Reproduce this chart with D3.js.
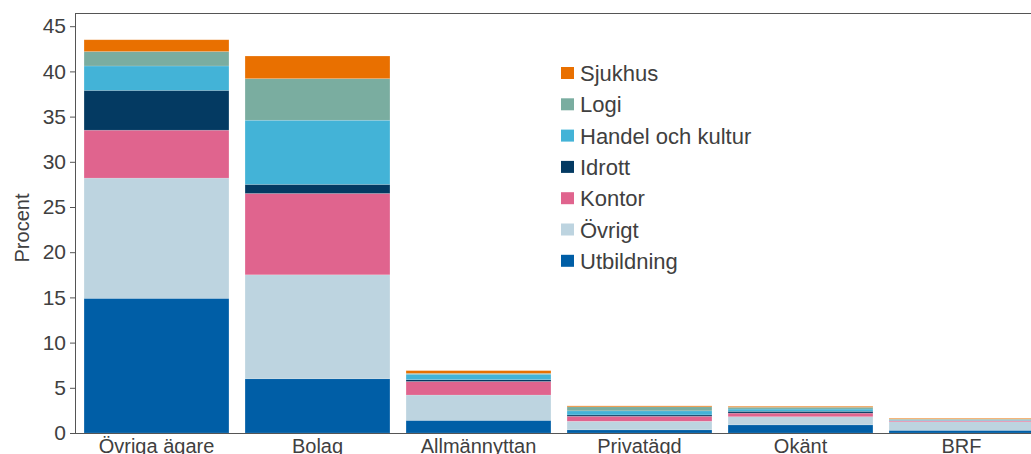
<!DOCTYPE html>
<html>
<head>
<meta charset="utf-8">
<script src="https://cdn.jsdelivr.net/npm/d3@7"></script>
<style>
  body { margin: 0; background: #fff; }
  svg { display: block; font-family: "Liberation Sans", Arial, sans-serif; }
</style>
</head>
<body>
<div id="chart"></div>
<script>
const owners = ["Övriga ägare", "Bolag", "Allmännyttan", "Privatägd", "Okänt", "BRF"];
const categories = ["Utbildning", "Övrigt", "Kontor", "Idrott", "Handel och kultur", "Logi", "Sjukhus"];
const colors = ["#005ea6", "#bdd4e0", "#e0648e", "#043a62", "#43b3d7", "#7aada0", "#e97000"];

// values per category, one number per owner
const utbildning = [14.9, 6.0, 1.4, 0.35, 0.9, 0.3];
const ovrigt     = [13.3, 11.5, 2.8, 0.95, 0.9, 0.95];
const kontor     = [5.3, 9.0, 1.5, 0.55, 0.4, 0.12];
const idrott     = [4.4, 1.0, 0.2, 0.15, 0.2, 0.02];
const handel     = [2.7, 7.1, 0.6, 0.45, 0.25, 0.07];
const logi       = [1.6, 4.6, 0.1, 0.45, 0.2, 0.08];
const sjukhus    = [1.3, 2.5, 0.3, 0.1, 0.1, 0.08];
const yTicks = [0, 5, 10, 15, 20, 25, 30, 35, 40, 45];

const series = [utbildning, ovrigt, kontor, idrott, handel, logi, sjukhus];
const rows = owners.map((o, i) => {
    const r = { owner: o };
    categories.forEach((c, j) => r[c] = series[j][i]);
    return r;
});

const width = 1031, height = 454;
const marginLeft = 75, plotTop = 13, plotBottom = 433;

const svg = d3.select("#chart").append("svg")
    .attr("width", width)
    .attr("height", height);

const x = d3.scaleBand()
    .domain(owners)
    .range([marginLeft + 1, marginLeft + 1 + 6 * 161])
    .paddingInner(0.1)
    .paddingOuter(0.05);

const y = d3.scaleLinear()
    .domain([0, 45])
    .range([plotBottom, plotBottom - 45 * 9.04]);

const color = d3.scaleOrdinal().domain(categories).range(colors);

const stacked = d3.stack().keys(categories)(rows);

svg.append("g")
    .selectAll("g")
    .data(stacked)
    .join("g")
    .attr("fill", d => color(d.key))
    .selectAll("rect")
    .data(d => d)
    .join("rect")
    .attr("x", d => x(d.data.owner))
    .attr("width", x.bandwidth())
    .attr("y", d => y(d[1]))
    .attr("height", d => y(d[0]) - y(d[1]))
    .attr("stroke", "#fff")
    .attr("stroke-opacity", 0.25)
    .attr("stroke-width", 0.6);

// frame: top line
svg.append("line")
    .attr("x1", marginLeft).attr("x2", width)
    .attr("y1", plotTop + 0.5).attr("y2", plotTop + 0.5)
    .attr("stroke", "#555").attr("stroke-width", 1);

// y axis
const yAxis = svg.append("g")
    .attr("transform", `translate(${marginLeft},0)`)
    .call(d3.axisLeft(y).tickValues(yTicks).tickSize(5).tickPadding(4).tickSizeOuter(0));
yAxis.select(".domain").attr("d", `M0.5,${plotTop}V${plotBottom}`).attr("stroke", "#555");
yAxis.selectAll(".tick line").attr("stroke", "#555");
yAxis.selectAll("text")
    .style("font-size", "21px")
    .attr("fill", "#404040");

// x axis
const xAxis = svg.append("g")
    .attr("transform", `translate(0,${plotBottom})`)
    .call(d3.axisBottom(x).tickSize(0).tickPadding(6));
xAxis.select(".domain").attr("d", `M${marginLeft},0.5H${width}`).attr("stroke", "#555");
xAxis.selectAll("text")
    .style("font-size", "20px")
    .attr("fill", "#404040");

// y label
svg.append("text")
    .attr("transform", `translate(29,${(plotTop + plotBottom) / 2 + 5}) rotate(-90)`)
    .attr("text-anchor", "middle")
    .style("font-size", "20px")
    .attr("fill", "#404040")
    .text("Procent");

// legend, top item is last series
const legend = svg.append("g")
    .attr("transform", "translate(561,73)");
categories.slice().reverse().forEach((c, i) => {
    legend.append("rect")
        .attr("x", 0)
        .attr("y", i * 31.3 - 6)
        .attr("width", 13)
        .attr("height", 12)
        .attr("fill", color(c));
    legend.append("text")
        .attr("x", 19)
        .attr("y", i * 31.3 + 8)
        .text(c)
        .style("font-size", "22px")
        .attr("fill", "#404040");
});
</script>
</body>
</html>
